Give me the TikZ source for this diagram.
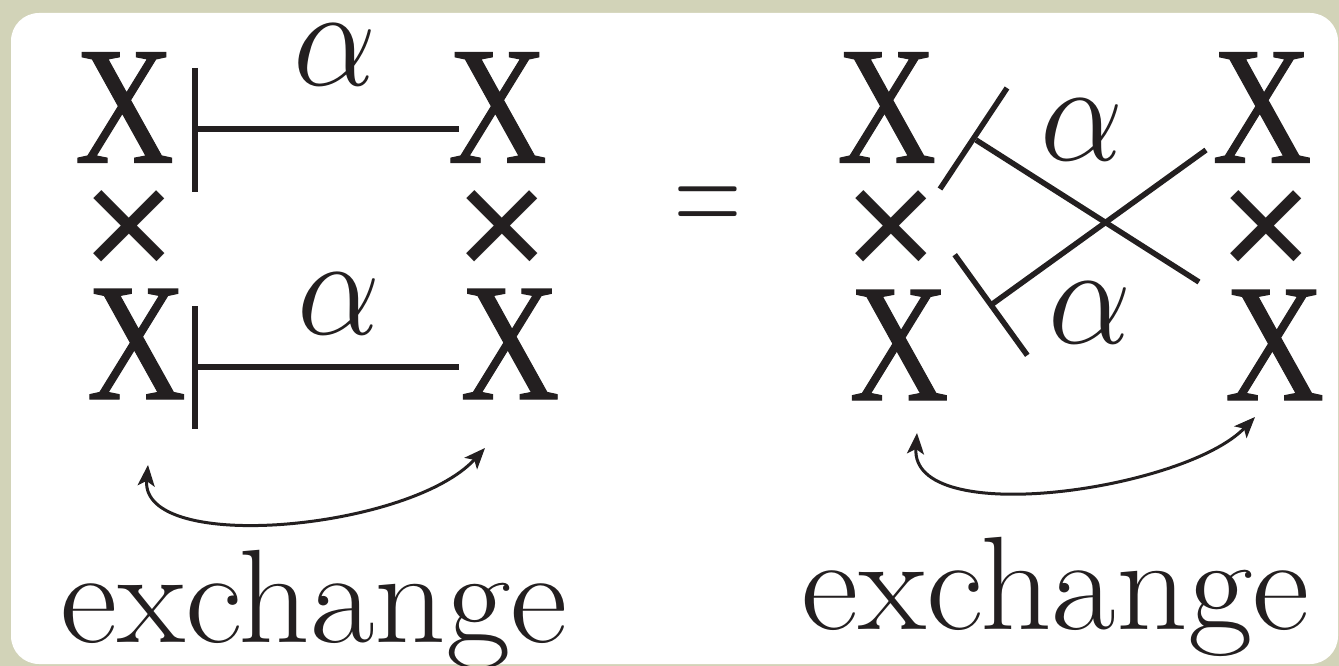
\RequirePackage{fix-cm}
\documentclass[tikz,border=0pt]{standalone}
\usepackage{fontspec}
\usepackage{graphicx}
\usetikzlibrary{arrows.meta}
\newfontfamily\xfont{Liberation Serif}[FakeBold=0.7]
\newfontfamily\tfont{Liberation Sans}
\definecolor{ink}{RGB}{35,31,32}
\definecolor{bgframe}{RGB}{210,211,184}
\newcommand{\glX}{{\fontsize{168}{168}\selectfont\xfont\scalebox{0.82}[1]{X}}}
\newcommand{\glT}{{\fontsize{160}{160}\selectfont\tfont ×}}
\newcommand{\glA}{{\fontsize{142}{142}\selectfont\scalebox{0.93}[1]{$\alpha$}}}
\newcommand{\glE}{{\fontsize{133}{133}\selectfont\scalebox{1.055}[1]{exchange}}}
\newcommand{\glEq}{{\fontsize{93}{93}\selectfont\scalebox{1}[1.5]{=}}}
\tikzset{
  glyph/.style={inner sep=0pt, outer sep=0pt, text=ink},
  bar/.style={draw=ink, line width=6pt, line cap=butt},
  slim/.style={draw=ink, line width=5.5pt, line cap=butt},
  swap/.style={draw=ink, line width=3pt,
    {Stealth[length=21pt,width=17pt,inset=5pt]}-{Stealth[length=21pt,width=17pt,inset=5pt]}}
}
\begin{document}
\begin{tikzpicture}[x=1pt,y=-1pt]
\useasboundingbox (0,0) rectangle (1339,666);
\fill[bgframe] (0,0) rectangle (1339,666);
\fill[white, rounded corners=28pt] (11,13) rectangle (1338,664);

% left diagram
\node[glyph] (X1) at (124.5,107.5) {\glX};
\node[glyph] (X2) at (497.5,107.5) {\glX};
\node[glyph] (T1) at (129,235) {\glT};
\node[glyph] (T2) at (502,235) {\glT};
\node[glyph] (X3) at (136.5,344) {\glX};
\node[glyph] (X4) at (510,344) {\glX};
\node[glyph] (A1) at (335,55) {\glA};
\node[glyph] (A2) at (339,304) {\glA};

\coordinate (p1t) at (195,68);
\coordinate (p1b) at (195,192);
\coordinate (p1s) at (195,129);
\coordinate (p1e) at (459,129);
\coordinate (p2t) at (195,306);
\coordinate (p2b) at (195,429);
\coordinate (p2s) at (195,367);
\coordinate (p2e) at (459,367);
\draw[bar] (p1t) -- (p1b);
\draw[bar] (p1s) -- (p1e);
\draw[bar] (p2t) -- (p2b);
\draw[bar] (p2s) -- (p2e);

\coordinate (la) at (148,465);
\coordinate (lb) at (485,448);
\draw[swap] (la) .. controls (140,555) and (410,530) .. (lb);
\node[glyph, anchor=base] (E1) at (314,642) {\glE};

% equals
\node[glyph] (EQ) at (708,211.5) {\glEq};

% right diagram
\node[glyph] (Y1) at (886.7,107.5) {\glX};
\node[glyph] (Y2) at (1262,107.5) {\glX};
\node[glyph] (U1) at (891,235.5) {\glT};
\node[glyph] (U2) at (1266.5,235.5) {\glT};
\node[glyph] (Y3) at (899,345) {\glX};
\node[glyph] (Y4) at (1274.6,345) {\glX};
\node[glyph] (B1) at (1082.5,130) {\glA};
\node[glyph] (B2) at (1090,312.5) {\glA};

\coordinate (q1a) at (940,189);
\coordinate (q1b) at (1007,88);
\coordinate (q1s) at (976,140);
\coordinate (q1e) at (1199,282);
\coordinate (q2a) at (954.7,254.7);
\coordinate (q2b) at (1027.3,355.3);
\coordinate (q2s) at (991,305);
\coordinate (q2e) at (1206,150);
\draw[slim] (q1a) -- (q1b);
\draw[slim] (q1s) -- (q1e);
\draw[slim] (q2a) -- (q2b);
\draw[slim] (q2s) -- (q2e);

\coordinate (ra) at (917,433);
\coordinate (rb) at (1255,417);
\draw[swap] (ra) .. controls (910,530) and (1185,490) .. (rb);
\node[glyph, anchor=base] (E2) at (1055.5,629.5) {\glE};
\end{tikzpicture}
\end{document}
